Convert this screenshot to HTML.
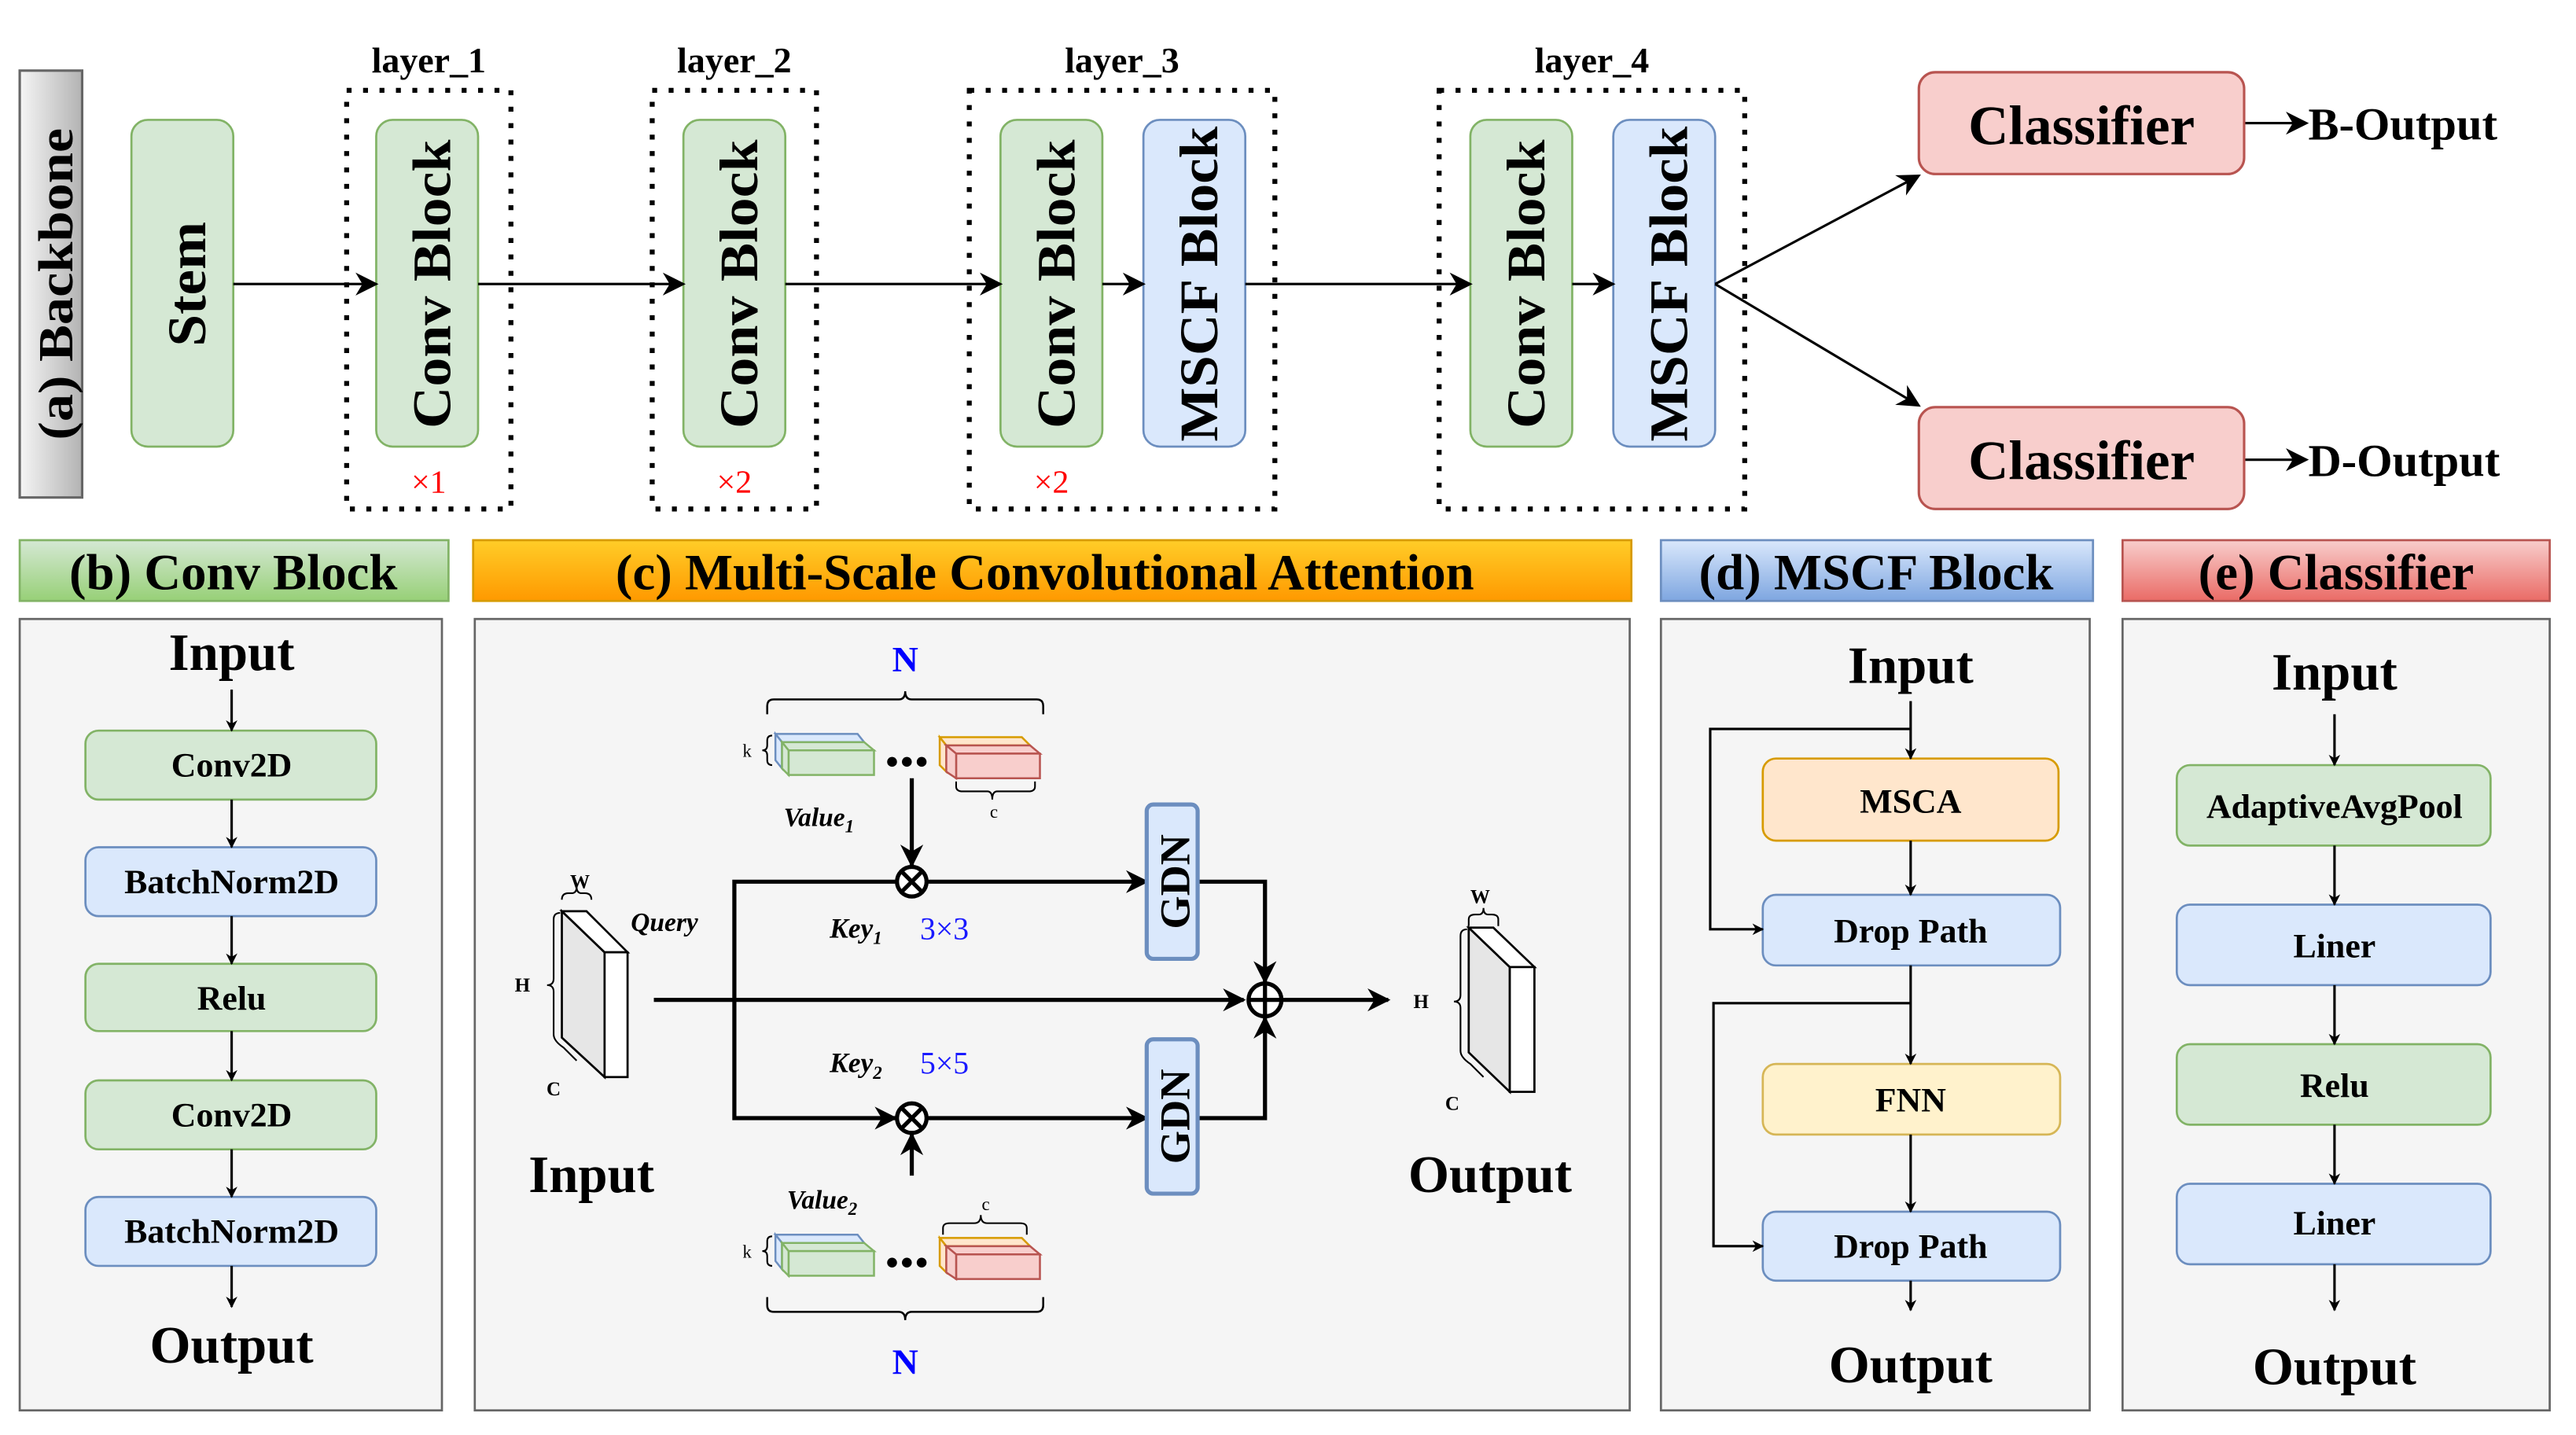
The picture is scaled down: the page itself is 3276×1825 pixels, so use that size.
<!DOCTYPE html>
<html><head><meta charset="utf-8"><style>
html,body{margin:0;padding:0;background:#fff;}
svg{display:block;}
text{font-family:"Liberation Serif",serif;font-weight:bold;fill:#000;}
</style></head><body>
<svg width="3276" height="1825" viewBox="0 0 1568 874" preserveAspectRatio="none" xmlns="http://www.w3.org/2000/svg">
<defs>
<marker id="a" viewBox="0 0 10 10" refX="9" refY="5" markerWidth="7" markerHeight="7" orient="auto" markerUnits="userSpaceOnUse"><path d="M0,0 L10,5 L0,10 L3,5 z" fill="#000"/></marker>
<marker id="b" viewBox="0 0 10 10" refX="9" refY="5" markerWidth="14" markerHeight="14" orient="auto" markerUnits="userSpaceOnUse"><path d="M0,0 L10,5 L0,10 L3,5 z" fill="#000"/></marker>
<linearGradient id="gbb" x1="0" y1="0" x2="1" y2="0"><stop offset="0" stop-color="#f5f5f5"/><stop offset="1" stop-color="#b3b3b3"/></linearGradient>
<linearGradient id="gg" x1="0" y1="0" x2="0" y2="1"><stop offset="0" stop-color="#d5e8d4"/><stop offset="1" stop-color="#97d077"/></linearGradient>
<linearGradient id="go" x1="0" y1="0" x2="0" y2="1"><stop offset="0" stop-color="#ffcd28"/><stop offset="1" stop-color="#ff9900"/></linearGradient>
<linearGradient id="gb" x1="0" y1="0" x2="0" y2="1"><stop offset="0" stop-color="#dae8fc"/><stop offset="1" stop-color="#7ea6e0"/></linearGradient>
<linearGradient id="gr" x1="0" y1="0" x2="0" y2="1"><stop offset="0" stop-color="#f8cecc"/><stop offset="1" stop-color="#ea6b66"/></linearGradient>
</defs>

<!-- (a) Backbone -->
<rect x="12" y="43" width="38" height="260" fill="url(#gbb)" stroke="#666" stroke-width="1.5"/>
<text transform="translate(44,173) rotate(-90)" font-size="30" text-anchor="middle" textLength="190" lengthAdjust="spacingAndGlyphs">(a) Backbone</text>

<g stroke-width="1.3">
<rect x="80" y="73" width="62" height="199" rx="10" fill="#d5e8d4" stroke="#82b366"/>
<rect x="229" y="73" width="62" height="199" rx="10" fill="#d5e8d4" stroke="#82b366"/>
<rect x="416" y="73" width="62" height="199" rx="10" fill="#d5e8d4" stroke="#82b366"/>
<rect x="609" y="73" width="62" height="199" rx="10" fill="#d5e8d4" stroke="#82b366"/>
<rect x="696" y="73" width="62" height="199" rx="10" fill="#dae8fc" stroke="#6c8ebf"/>
<rect x="895" y="73" width="62" height="199" rx="10" fill="#d5e8d4" stroke="#82b366"/>
<rect x="982" y="73" width="62" height="199" rx="10" fill="#dae8fc" stroke="#6c8ebf"/>
</g>
<g font-size="33">
<text transform="translate(125,173) rotate(-90)" text-anchor="middle" textLength="76" lengthAdjust="spacingAndGlyphs">Stem</text>
<text transform="translate(274,173) rotate(-90)" text-anchor="middle" textLength="176" lengthAdjust="spacingAndGlyphs">Conv Block</text>
<text transform="translate(461,173) rotate(-90)" text-anchor="middle" textLength="176" lengthAdjust="spacingAndGlyphs">Conv Block</text>
<text transform="translate(654,173) rotate(-90)" text-anchor="middle" textLength="176" lengthAdjust="spacingAndGlyphs">Conv Block</text>
<text transform="translate(741,173) rotate(-90)" text-anchor="middle" textLength="192" lengthAdjust="spacingAndGlyphs">MSCF Block</text>
<text transform="translate(940,173) rotate(-90)" text-anchor="middle" textLength="176" lengthAdjust="spacingAndGlyphs">Conv Block</text>
<text transform="translate(1027,173) rotate(-90)" text-anchor="middle" textLength="192" lengthAdjust="spacingAndGlyphs">MSCF Block</text>
</g>
<g fill="none" stroke="#000" stroke-width="3" stroke-dasharray="3,7">
<rect x="211" y="55" width="100" height="255"/>
<rect x="397" y="55" width="100" height="255"/>
<rect x="590" y="55" width="186" height="255"/>
<rect x="876" y="55" width="186" height="255"/>
</g>
<g font-size="22" text-anchor="middle">
<text x="261" y="44">layer_1</text>
<text x="447" y="44">layer_2</text>
<text x="683" y="44">layer_3</text>
<text x="969" y="44">layer_4</text>
</g>
<g font-size="20" text-anchor="middle">
<text x="261" y="300" style="fill:#f00;font-weight:normal">×1</text>
<text x="447" y="300" style="fill:#f00;font-weight:normal">×2</text>
<text x="640" y="300" style="fill:#f00;font-weight:normal">×2</text>
</g>
<g stroke="#000" stroke-width="1.5" fill="none" marker-end="url(#b)">
<line x1="142" y1="173" x2="229" y2="173"/>
<line x1="291" y1="173" x2="416" y2="173"/>
<line x1="478" y1="173" x2="609" y2="173"/>
<line x1="671" y1="173" x2="696" y2="173"/>
<line x1="758" y1="173" x2="895" y2="173"/>
<line x1="957" y1="173" x2="982" y2="173"/>
<line x1="1044" y1="173" x2="1168" y2="107"/>
<line x1="1044" y1="173" x2="1168" y2="247"/>
<line x1="1366" y1="75" x2="1404" y2="75"/>
<line x1="1366" y1="280" x2="1404" y2="280"/>
</g>
<rect x="1168" y="44" width="198" height="62" rx="10" fill="#f8cecc" stroke="#b85450" stroke-width="1.5"/>
<rect x="1168" y="248" width="198" height="62" rx="10" fill="#f8cecc" stroke="#b85450" stroke-width="1.5"/>
<text x="1267" y="88" font-size="34" text-anchor="middle">Classifier</text>
<text x="1267" y="292" font-size="34" text-anchor="middle">Classifier</text>
<text x="1405" y="85" font-size="28">B-Output</text>
<text x="1405" y="290" font-size="28">D-Output</text>

<!-- headers -->
<rect x="12" y="329" width="261" height="37" fill="url(#gg)" stroke="#82b366" stroke-width="1.3"/>
<rect x="288" y="329" width="705" height="37" fill="url(#go)" stroke="#d79b00" stroke-width="1.3"/>
<rect x="1011" y="329" width="263" height="37" fill="url(#gb)" stroke="#6c8ebf" stroke-width="1.3"/>
<rect x="1292" y="329" width="260" height="37" fill="url(#gr)" stroke="#b85450" stroke-width="1.3"/>
<g font-size="31" text-anchor="middle">
<text x="142" y="359">(b) Conv Block</text>
<text x="636" y="359">(c) Multi-Scale Convolutional Attention</text>
<text x="1142" y="359">(d) MSCF Block</text>
<text x="1422" y="359">(e) Classifier</text>
</g>

<!-- panels -->
<g fill="#f5f5f5" stroke="#666" stroke-width="1.3">
<rect x="12" y="377" width="257" height="482"/>
<rect x="289" y="377" width="703" height="482"/>
<rect x="1011" y="377" width="261" height="482"/>
<rect x="1292" y="377" width="260" height="482"/>
</g>

<!-- (b) -->
<text x="141" y="408" font-size="32" text-anchor="middle">Input</text>
<text x="141" y="830" font-size="32" text-anchor="middle">Output</text>
<g stroke-width="1.3">
<rect x="52" y="445" width="177" height="42" rx="8" fill="#d5e8d4" stroke="#82b366"/>
<rect x="52" y="516" width="177" height="42" rx="8" fill="#dae8fc" stroke="#6c8ebf"/>
<rect x="52" y="587" width="177" height="41" rx="8" fill="#d5e8d4" stroke="#82b366"/>
<rect x="52" y="658" width="177" height="42" rx="8" fill="#d5e8d4" stroke="#82b366"/>
<rect x="52" y="729" width="177" height="42" rx="8" fill="#dae8fc" stroke="#6c8ebf"/>
</g>
<g font-size="21" text-anchor="middle">
<text x="141" y="473">Conv2D</text>
<text x="141" y="544">BatchNorm2D</text>
<text x="141" y="615">Relu</text>
<text x="141" y="686">Conv2D</text>
<text x="141" y="757">BatchNorm2D</text>
</g>
<g stroke="#000" stroke-width="1.5" marker-end="url(#a)">
<line x1="141" y1="420" x2="141" y2="445"/>
<line x1="141" y1="487" x2="141" y2="516"/>
<line x1="141" y1="558" x2="141" y2="587"/>
<line x1="141" y1="628" x2="141" y2="658"/>
<line x1="141" y1="700" x2="141" y2="729"/>
<line x1="141" y1="771" x2="141" y2="796"/>
</g>

<!-- (c) -->
<polygon points="342,555 368,580 368,656 342,632" fill="#e6e6e6" stroke="#000" stroke-width="1.3"/>
<polygon points="342,555 357,555 382,580 368,580" fill="#fff" stroke="#000" stroke-width="1.3"/>
<rect x="368" y="580" width="14" height="76" fill="#fff" stroke="#000" stroke-width="1.3"/>
<path d="M342,548 q0,-4 4,-4 h2 q3,0 3,-4 q0,4 3,4 h2 q4,0 4,4" fill="none" stroke="#000" stroke-width="1"/>
<path d="M341,556 q-4,0 -4,4 v36 q0,4 -4,4 q4,0 4,4 v26 q0,4 6,8 l8,8" fill="none" stroke="#000" stroke-width="1"/>
<text x="353" y="541" font-size="12" text-anchor="middle">W</text>
<text x="318" y="604" font-size="12" text-anchor="middle">H</text>
<text x="337" y="667" font-size="12" text-anchor="middle">C</text>
<text x="384" y="567" font-size="16" font-style="italic">Query</text>
<text x="360" y="726" font-size="32" text-anchor="middle">Input</text>

<polygon points="894,565 919,589 919,665 894,641" fill="#e6e6e6" stroke="#000" stroke-width="1.3"/>
<polygon points="894,565 909,565 934,589 919,589" fill="#fff" stroke="#000" stroke-width="1.3"/>
<rect x="919" y="589" width="15" height="76" fill="#fff" stroke="#000" stroke-width="1.3"/>
<path d="M894,564 v-4 q0,-3 4,-3 h2 q3,0 3,-4 q0,4 3,4 h2 q4,0 4,3 v4" fill="none" stroke="#000" stroke-width="1"/>
<path d="M893,566 q-4,0 -4,4 v36 q0,4 -4,4 q4,0 4,4 v26 q0,4 6,8 l8,8" fill="none" stroke="#000" stroke-width="1"/>
<text x="901" y="550" font-size="12" text-anchor="middle">W</text>
<text x="865" y="614" font-size="12" text-anchor="middle">H</text>
<text x="884" y="676" font-size="12" text-anchor="middle">C</text>
<text x="907" y="726" font-size="32" text-anchor="middle">Output</text>

<g stroke="#000" stroke-width="2.5" fill="none">
<line x1="398" y1="609" x2="757" y2="609" marker-end="url(#b)"/>
<line x1="781" y1="609" x2="845" y2="609" marker-end="url(#b)"/>
<polyline points="545,537 447,537 447,681 545,681" marker-end="url(#b)"/>
<line x1="565" y1="537" x2="698" y2="537" marker-end="url(#b)"/>
<line x1="565" y1="681" x2="698" y2="681" marker-end="url(#b)"/>
<polyline points="729,537 770,537 770,598" marker-end="url(#b)"/>
<polyline points="729,681 770,681 770,620" marker-end="url(#b)"/>
<line x1="555" y1="474" x2="555" y2="527" marker-end="url(#b)"/>
<line x1="555" y1="716" x2="555" y2="691" marker-end="url(#b)"/>
<circle cx="555" cy="537" r="9" fill="#fff"/>
<path d="M549,531 L561,543 M561,531 L549,543"/>
<circle cx="555" cy="681" r="9" fill="#fff"/>
<path d="M549,675 L561,687 M561,675 L549,687"/>
<circle cx="770" cy="609" r="10" fill="#fff"/>
<path d="M760,609 h20 M770,599 v20"/>
</g>
<rect x="698" y="490" width="31" height="94" rx="4" fill="#dae8fc" stroke="#6c8ebf" stroke-width="2.5"/>
<rect x="698" y="633" width="31" height="94" rx="4" fill="#dae8fc" stroke="#6c8ebf" stroke-width="2.5"/>
<text transform="translate(724,537) rotate(-90)" font-size="26" text-anchor="middle">GDN</text>
<text transform="translate(724,680) rotate(-90)" font-size="26" text-anchor="middle">GDN</text>
<text x="505" y="571" font-size="17" font-style="italic">Key<tspan font-size="11" dy="4">1</tspan></text>
<text x="560" y="572" font-size="19" style="fill:#1a1aff;font-weight:normal">3×3</text>
<text x="505" y="653" font-size="17" font-style="italic">Key<tspan font-size="11" dy="4">2</tspan></text>
<text x="560" y="654" font-size="19" style="fill:#1a1aff;font-weight:normal">5×5</text>
<text x="477" y="503" font-size="16" font-style="italic">Value<tspan font-size="11" dy="4">1</tspan></text>
<text x="479" y="736" font-size="16" font-style="italic">Value<tspan font-size="11" dy="4">2</tspan></text>

<g stroke-width="1.2">
<polygon points="472,447 522,447 526,452 476,452" fill="#dae8fc" stroke="#6c8ebf"/>
<polygon points="472,447 476,452 476,468 472,463" fill="#dae8fc" stroke="#6c8ebf"/>
<polygon points="476,452 526,452 532,457 480,457" fill="#d5e8d4" stroke="#82b366"/>
<rect x="480" y="457" width="52" height="15" fill="#d5e8d4" stroke="#82b366"/>
<polygon points="476,452 480,457 480,472 476,468" fill="#d5e8d4" stroke="#82b366"/>
<polygon points="572,449 622,449 627,454 576,454" fill="#ffe6cc" stroke="#d79b00"/>
<polygon points="572,449 576,454 576,470 572,466" fill="#ffe6cc" stroke="#d79b00"/>
<polygon points="576,454 627,454 633,459 582,459" fill="#f8cecc" stroke="#b85450"/>
<rect x="582" y="459" width="51" height="15" fill="#f8cecc" stroke="#b85450"/>
<polygon points="576,454 582,459 582,474 576,470" fill="#f8cecc" stroke="#b85450"/>
</g>
<g fill="#000"><circle cx="543" cy="464" r="3"/><circle cx="552" cy="464" r="3"/><circle cx="561" cy="464" r="3"/></g>
<path d="M467,435 v-5 q0,-4 4,-4 h76 q4,0 4,-5 q0,5 4,5 h76 q4,0 4,4 v5" fill="none" stroke="#000" stroke-width="1.2"/>
<text x="551" y="409" font-size="22" text-anchor="middle" style="fill:#0000ff">N</text>
<path d="M582,476 v3 q0,3 4,3 h15 q3,0 3,5 q0,-5 3,-5 h19 q4,0 4,-3 v-3" fill="none" stroke="#000" stroke-width="1"/>
<text x="605" y="498" font-size="11" text-anchor="middle" style="font-weight:normal">c</text>
<path d="M470,448 q-3,0 -3,3 v3 q0,3 -3,3 q3,0 3,3 v3 q0,3 3,3" fill="none" stroke="#000" stroke-width="1"/>
<text x="452" y="461" font-size="11" style="font-weight:normal">k</text>

<g stroke-width="1.2">
<polygon points="472,752 522,752 526,757 476,757" fill="#dae8fc" stroke="#6c8ebf"/>
<polygon points="472,752 476,757 476,773 472,768" fill="#dae8fc" stroke="#6c8ebf"/>
<polygon points="476,757 526,757 532,762 480,762" fill="#d5e8d4" stroke="#82b366"/>
<rect x="480" y="762" width="52" height="15" fill="#d5e8d4" stroke="#82b366"/>
<polygon points="476,757 480,762 480,777 476,773" fill="#d5e8d4" stroke="#82b366"/>
<polygon points="572,754 622,754 627,759 576,759" fill="#ffe6cc" stroke="#d79b00"/>
<polygon points="572,754 576,759 576,775 572,771" fill="#ffe6cc" stroke="#d79b00"/>
<polygon points="576,759 627,759 633,764 582,764" fill="#f8cecc" stroke="#b85450"/>
<rect x="582" y="764" width="51" height="15" fill="#f8cecc" stroke="#b85450"/>
<polygon points="576,759 582,764 582,779 576,775" fill="#f8cecc" stroke="#b85450"/>
</g>
<g fill="#000"><circle cx="543" cy="769" r="3"/><circle cx="552" cy="769" r="3"/><circle cx="561" cy="769" r="3"/></g>
<path d="M467,790 v5 q0,4 4,4 h76 q4,0 4,5 q0,-5 4,-5 h76 q4,0 4,-4 v-5" fill="none" stroke="#000" stroke-width="1.2"/>
<text x="551" y="837" font-size="22" text-anchor="middle" style="fill:#0000ff">N</text>
<path d="M574,752 v-4 q0,-3 4,-3 h15 q4,0 4,-5 q0,5 4,5 h20 q4,0 4,3 v4" fill="none" stroke="#000" stroke-width="1"/>
<text x="600" y="737" font-size="11" text-anchor="middle" style="font-weight:normal">c</text>
<path d="M470,753 q-3,0 -3,3 v3 q0,3 -3,3 q3,0 3,3 v3 q0,3 3,3" fill="none" stroke="#000" stroke-width="1"/>
<text x="452" y="766" font-size="11" style="font-weight:normal">k</text>

<!-- (d) -->
<text x="1163" y="416" font-size="32" text-anchor="middle">Input</text>
<text x="1163" y="842" font-size="32" text-anchor="middle">Output</text>
<g stroke-width="1.3">
<rect x="1073" y="462" width="180" height="50" rx="8" fill="#ffe6cc" stroke="#d79b00"/>
<rect x="1073" y="545" width="181" height="43" rx="8" fill="#dae8fc" stroke="#6c8ebf"/>
<rect x="1073" y="648" width="181" height="43" rx="8" fill="#fff2cc" stroke="#d6b656"/>
<rect x="1073" y="738" width="181" height="42" rx="8" fill="#dae8fc" stroke="#6c8ebf"/>
</g>
<g font-size="21" text-anchor="middle">
<text x="1163" y="495">MSCA</text>
<text x="1163" y="574">Drop Path</text>
<text x="1163" y="677">FNN</text>
<text x="1163" y="766">Drop Path</text>
</g>
<g stroke="#000" stroke-width="1.5" fill="none" marker-end="url(#a)">
<line x1="1163" y1="427" x2="1163" y2="462"/>
<line x1="1163" y1="512" x2="1163" y2="545"/>
<line x1="1163" y1="588" x2="1163" y2="648"/>
<line x1="1163" y1="691" x2="1163" y2="738"/>
<line x1="1163" y1="780" x2="1163" y2="798"/>
<polyline points="1163,444 1041,444 1041,566 1073,566"/>
<polyline points="1163,611 1043,611 1043,759 1073,759"/>
</g>

<!-- (e) -->
<text x="1421" y="420" font-size="32" text-anchor="middle">Input</text>
<text x="1421" y="843" font-size="32" text-anchor="middle">Output</text>
<g stroke-width="1.3">
<rect x="1325" y="466" width="191" height="49" rx="8" fill="#d5e8d4" stroke="#82b366"/>
<rect x="1325" y="551" width="191" height="49" rx="8" fill="#dae8fc" stroke="#6c8ebf"/>
<rect x="1325" y="636" width="191" height="49" rx="8" fill="#d5e8d4" stroke="#82b366"/>
<rect x="1325" y="721" width="191" height="49" rx="8" fill="#dae8fc" stroke="#6c8ebf"/>
</g>
<g font-size="21" text-anchor="middle">
<text x="1421" y="498">AdaptiveAvgPool</text>
<text x="1421" y="583">Liner</text>
<text x="1421" y="668">Relu</text>
<text x="1421" y="752">Liner</text>
</g>
<g stroke="#000" stroke-width="1.5" marker-end="url(#a)">
<line x1="1421" y1="435" x2="1421" y2="466"/>
<line x1="1421" y1="515" x2="1421" y2="551"/>
<line x1="1421" y1="600" x2="1421" y2="636"/>
<line x1="1421" y1="685" x2="1421" y2="721"/>
<line x1="1421" y1="770" x2="1421" y2="798"/>
</g>
</svg>
</body></html>
